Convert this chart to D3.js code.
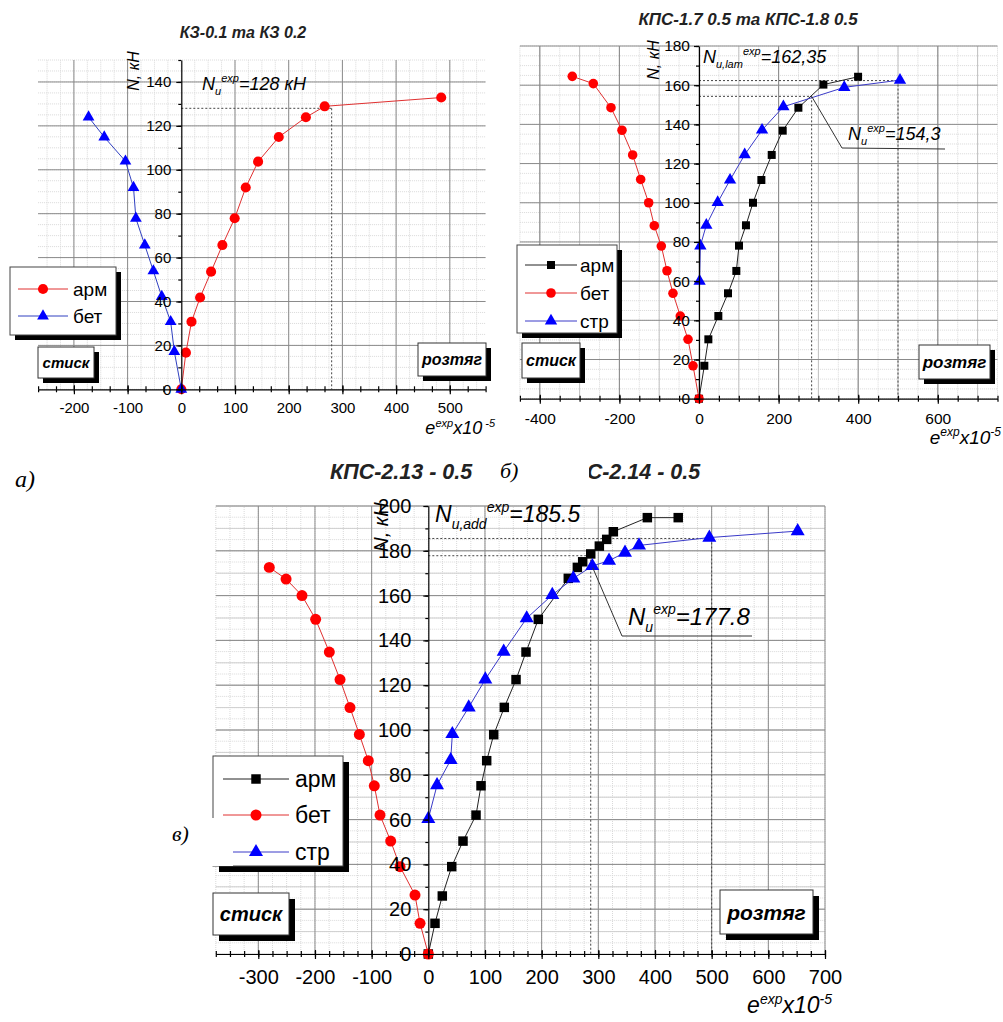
<!DOCTYPE html>
<html>
<head>
<meta charset="utf-8">
<script src="https://cdn.jsdelivr.net/npm/d3@7"></script>
<style>
  body { margin: 0; background: #fff; }
  svg { display: block; font-family: Arial, "Liberation Sans", sans-serif; }
</style>
</head>
<body>
<svg id="fig" width="1003" height="1022"></svg>
<script>
// ---- panel а) КЗ-0.1 та КЗ 0.2
const aArmX = [0, 8.6, 19, 35, 55.5, 76.5, 99.4, 120, 143, 181.5, 232, 267, 484];
const aArmN = [0, 16.7, 30.8, 41.8, 53.6, 65.7, 77.9, 91.9, 103.7, 114.9, 123.9, 128.9, 132.9];
const aBetX = [0, -13, -19.8, -36.4, -52, -68, -84.6, -89, -104, -143.5, -172.7];
const aBetN = [0, 17.2, 30.8, 42.2, 53.9, 65.7, 77.9, 91.9, 103.9, 114.9, 124];
const aXTicks = [-200, -100, 0, 100, 200, 300, 400, 500];
const aYTicks = [0, 20, 40, 60, 80, 100, 120, 140];
const aNu = 128, aNuX = 280;

// ---- panel б) КПС-1.7 0.5 та КПС-1.8 0.5
const bArmX = [0, 13.4, 23.5, 48.6, 72.9, 93.8, 100.5, 118, 135.7, 156.7, 182.7, 210.3, 249.7, 312.5, 399.7];
const bArmN = [0, 16.8, 30.3, 42.2, 53.8, 65.2, 78.1, 88.5, 100, 111.6, 124.4, 136.8, 148.5, 160.3, 164.3];
const bBetX = [0, -15, -27.6, -47, -65.4, -80.4, -94.7, -112.3, -126.5, -146.6, -166.7, -193.5, -221.2, -265.6, -318.4];
const bBetN = [0, 16.8, 30.3, 42.2, 53.8, 65.3, 77.9, 88.3, 100, 111.9, 124.4, 137, 148.5, 160.8, 164.5];
const bStrX = [1.5, 3.4, 18.4, 47, 78, 114.8, 158.4, 212, 365, 505];
const bStrN = [60, 78, 88.6, 100.2, 111.6, 124.5, 137.1, 149, 158.9, 162.6];
const bXTicks = [-400, -200, 0, 200, 400, 600];
const bYTicks = [0, 20, 40, 60, 80, 100, 120, 140, 160, 180];
const bNuLam = 162.35, bNuLamX = 500;
const bNu = 154.3, bNuX = 283;

// ---- panel в) КПС-2.13 - 0.5 та КПС-2.14 - 0.5
const cArmX = [0, 11.8, 24.7, 41.3, 61.2, 84.2, 93, 103, 115.4, 134.1, 154.8, 172.4, 194.1, 247, 263, 272.4, 286.6, 301.8, 314.8, 326.5, 386.5, 441];
const cArmN = [0, 13.7, 25.9, 39, 50.4, 62, 75.1, 86.3, 97.9, 110.1, 122.5, 134.8, 149.4, 167.7, 172.6, 175.1, 178.6, 182.1, 185.1, 188.5, 194.8, 194.8];
const cBetX = [0, -14.6, -23.5, -49.9, -66.4, -85.2, -95.3, -105.9, -121.7, -138.2, -155.8, -174.7, -198.8, -222.9, -251, -280.6];
const cBetN = [0, 13.7, 26.3, 39, 50.4, 62, 75.1, 86.3, 98, 110, 122.5, 134.8, 149.4, 160, 167.4, 172.6];
const cStrX = [0, 15.4, 39.5, 42.4, 71.3, 100.6, 133, 173.6, 218.8, 255.9, 289.4, 318.9, 347.1, 371.8, 495.9, 651.8];
const cStrN = [60.3, 75.4, 86.6, 98.2, 110.1, 122.6, 135, 149.9, 160.3, 167.7, 173.2, 175.6, 179.2, 182.4, 185.9, 188.8];
const cXTicks = [-300, -200, -100, 0, 100, 200, 300, 400, 500, 600, 700];
const cYTicks = [0, 20, 40, 60, 80, 100, 120, 140, 160, 180, 200];
const cNuAdd = 185.5, cNuAddX = 500;
const cNu = 177.8, cNuX = 286.6;

const RED = '#ff0000', BLUE = '#0000ff', BLACK = '#000000';
const svg = d3.select('#fig');

function stepRange(domain, step) {
  const start = Math.ceil(domain[0] / step - 1e-6) * step;
  return d3.range(start, domain[1] + 1e-6, step);
}

function drawPanel(p) {
  const x = d3.scaleLinear().domain(p.xDomain).range(p.xRange);
  const y = d3.scaleLinear().domain(p.yDomain).range(p.yRange);
  const g = svg.append('g');
  const xr = p.xRange, yr = p.yRange;

  const vLines = (vals, color, dash) => g.append('g').selectAll('line').data(vals).join('line')
    .attr('x1', d => x(d)).attr('x2', d => x(d))
    .attr('y1', yr[0]).attr('y2', yr[1])
    .attr('stroke', color).attr('stroke-width', 1).attr('stroke-dasharray', dash);
  const hLines = (vals, color, dash) => g.append('g').selectAll('line').data(vals).join('line')
    .attr('x1', xr[0]).attr('x2', xr[1])
    .attr('y1', d => y(d)).attr('y2', d => y(d))
    .attr('stroke', color).attr('stroke-width', 1).attr('stroke-dasharray', dash);

  // grid
  vLines(stepRange(p.xDomain, p.xGridStep), '#d9d9d9', '1,1');
  hLines(stepRange(p.yDomain, p.yGridStep), '#d9d9d9', '1,1');
  if (p.xGridMid) vLines(stepRange(p.xDomain, p.xGridMid), '#c2c2c2', null);
  if (p.yGridMid) hLines(stepRange(p.yDomain, p.yGridMid), '#cfcfcf', null);
  vLines(p.xTicks.filter(d => d !== 0), '#8a8a8a', null);
  hLines(p.yTicks.filter(d => d !== 0), '#8a8a8a', null);

  // reference dashed lines
  p.refs.forEach(r => {
    g.append('line').attr('x1', x(0)).attr('x2', x(r.x)).attr('y1', y(r.n)).attr('y2', y(r.n))
      .attr('stroke', '#444').attr('stroke-dasharray', '2,2');
    g.append('line').attr('x1', x(r.x)).attr('x2', x(r.x)).attr('y1', y(r.n)).attr('y2', y(0))
      .attr('stroke', '#444').attr('stroke-dasharray', '2,2');
  });

  // series
  p.series.forEach(s => {
    const pts = s.xs.map((v, i) => [v, s.ns[i]]);
    g.append('path').datum(pts)
      .attr('fill', 'none').attr('stroke', s.line).attr('stroke-width', 1)
      .attr('d', d3.line().x(d => x(d[0])).y(d => y(d[1])));
    g.append('g').selectAll('path').data(pts).join('path')
      .attr('transform', d => `translate(${x(d[0])},${y(d[1])})`)
      .attr('d', d3.symbol().type(s.symbol).size(s.size))
      .attr('fill', s.color);
  });

  // axes (plain hyphen for negative labels, as in the source)
  const fam = 'Arial, "Liberation Sans", sans-serif';
  const fmt = d => String(d);
  const xAx = g.append('g').attr('transform', `translate(0,${y(0)})`);
  xAx.call(d3.axisBottom(x).tickValues(p.xTicks).tickSize(5).tickSizeOuter(0).tickPadding(p.xPad).tickFormat(fmt))
    .attr('font-family', fam).attr('font-size', p.tickFont);
  xAx.append('g').call(d3.axisBottom(x).tickValues(stepRange(p.xDomain, p.xMinor)).tickSize(3).tickFormat(''))
    .call(a => a.select('.domain').remove());
  xAx.append('g').call(d3.axisTop(x).tickValues(stepRange(p.xDomain, p.xMinor)).tickSize(3).tickFormat(''))
    .call(a => a.select('.domain').remove());
  xAx.append('g').call(d3.axisTop(x).tickValues(p.xTicks).tickSize(4).tickFormat(''))
    .call(a => a.select('.domain').remove());
  xAx.selectAll('path, line').attr('stroke-width', 1.2);

  const yAx = g.append('g').attr('transform', `translate(${x(0)},0)`);
  yAx.call(d3.axisLeft(y).tickValues(p.yTicks).tickSize(5).tickSizeOuter(0).tickPadding(p.yPad).tickFormat(fmt))
    .attr('font-family', fam).attr('font-size', p.tickFont);
  yAx.append('g').call(d3.axisLeft(y).tickValues(stepRange(p.yDomain, 10)).tickSize(3).tickFormat(''))
    .call(a => a.select('.domain').remove());
  yAx.selectAll('path, line').attr('stroke-width', 1.2);

  // axis titles
  g.append('text')
    .attr('transform', `translate(${p.nLabel[0]},${p.nLabel[1]}) rotate(-90)`)
    .attr('text-anchor', 'middle').attr('font-style', 'italic').attr('font-size', p.nLabel[2])
    .text('N, кН');
  const el = g.append('text').attr('x', p.eLabel[0]).attr('y', p.eLabel[1])
    .attr('text-anchor', 'end').attr('font-style', 'italic').attr('font-size', p.eLabel[2]);
  const small = Math.round(p.eLabel[2] * 0.62);
  el.append('tspan').text('e');
  el.append('tspan').attr('font-size', small).attr('dy', -p.eLabel[2] * 0.4).text('exp');
  el.append('tspan').attr('dy', p.eLabel[2] * 0.4).text('x10');
  el.append('tspan').attr('font-size', small).attr('dy', -p.eLabel[2] * 0.4).text(p.eExp);

  // boxes стиск / розтяг
  p.boxes.forEach(b => {
    g.append('rect').attr('x', b.x + b.sh).attr('y', b.y + b.sh).attr('width', b.w).attr('height', b.h).attr('fill', '#000');
    g.append('rect').attr('x', b.x).attr('y', b.y).attr('width', b.w).attr('height', b.h)
      .attr('fill', '#fff').attr('stroke', '#333').attr('stroke-width', 1);
    g.append('text').attr('x', b.x + b.w / 2).attr('y', b.y + b.h / 2)
      .attr('text-anchor', 'middle').attr('dominant-baseline', 'central')
      .attr('font-weight', 'bold').attr('font-style', 'italic').attr('font-size', b.fs)
      .text(b.text);
  });

  // legend
  const L = p.legend;
  g.append('rect').attr('x', L.x + L.sh).attr('y', L.y + L.sh).attr('width', L.w).attr('height', L.h).attr('fill', '#000');
  g.append('rect').attr('x', L.x).attr('y', L.y).attr('width', L.w).attr('height', L.h)
    .attr('fill', '#fff').attr('stroke', '#444').attr('stroke-width', 1);
  L.items.forEach((it, i) => {
    const s = p.series[it];
    const yy = L.rows[i];
    g.append('line').attr('x1', L.line[0]).attr('x2', L.line[1]).attr('y1', yy).attr('y2', yy)
      .attr('stroke', s.line).attr('stroke-width', 1);
    g.append('path').attr('transform', `translate(${(L.line[0] + L.line[1]) / 2},${yy})`)
      .attr('d', d3.symbol().type(s.symbol).size(s.size)).attr('fill', s.color);
    g.append('text').attr('x', L.tx).attr('y', yy).attr('dominant-baseline', 'central')
      .attr('font-size', L.fs).text(s.name);
  });

  return { x, y, g };
}

function annot(g, xp, yp, fs, sub, rest) {
  const t = g.append('text').attr('x', xp).attr('y', yp)
    .attr('font-style', 'italic').attr('font-size', fs);
  const sm = Math.round(fs * 0.6);
  t.append('tspan').text('N');
  t.append('tspan').attr('font-size', sm).attr('dy', fs * 0.3).text(sub);
  t.append('tspan').attr('font-size', sm).attr('dy', -fs * 0.75).text('exp');
  t.append('tspan').attr('dy', fs * 0.45).text(rest);
}

function title(g, xp, yp, fs, anchor, txt) {
  g.append('text').attr('x', xp).attr('y', yp).attr('text-anchor', anchor)
    .attr('font-style', 'italic').attr('font-weight', 'bold').attr('font-size', fs)
    .attr('fill', '#222').text(txt);
}

// ---------- panel а
const A = drawPanel({
  xDomain: [-800 / 3, 1700 / 3], xRange: [38.1, 485.6],
  yDomain: [0, 150], yRange: [389.3, 60],
  xTicks: aXTicks, yTicks: aYTicks, xMinor: 100 / 3, xGridStep: 25, yGridStep: 5,
  tickFont: 15, xPad: 8, yPad: 5,
  refs: [{ x: aNuX, n: aNu }],
  series: [
    { name: 'арм', xs: aArmX, ns: aArmN, color: RED, line: '#e03030', symbol: d3.symbolCircle, size: 80 },
    { name: 'бет', xs: aBetX, ns: aBetN, color: BLUE, line: '#3040c0', symbol: d3.symbolTriangle, size: 60 }
  ],
  nLabel: [139, 71, 16], eLabel: [495, 434, 18], eExp: ' -5',
  boxes: [
    { x: 38, y: 347, w: 56, h: 31, sh: 5, fs: 15, text: 'стиск' },
    { x: 418, y: 343, w: 68, h: 33, sh: 5, fs: 16, text: 'розтяг' }
  ],
  legend: { x: 10, y: 267, w: 106, h: 68, sh: 5, rows: [289, 316], line: [18, 68], tx: 73, fs: 19, items: [0, 1] }
});
annot(A.g, 202, 90, 18, 'u', '=128 кН');
title(A.g, 243, 38, 16, 'middle', 'КЗ-0.1 та КЗ 0.2');

// ---------- panel б
const B = drawPanel({
  xDomain: [-450, 750], xRange: [519.9, 997.5],
  yDomain: [0, 180], yRange: [398.7, 46],
  xTicks: bXTicks, yTicks: bYTicks, xMinor: 50, xGridStep: 50, xGridMid: 100, yGridStep: 5,
  tickFont: 15.5, xPad: 9, yPad: 4,
  refs: [{ x: bNuLamX, n: bNuLam }, { x: bNuX, n: bNu }],
  series: [
    { name: 'арм', xs: bArmX, ns: bArmN, color: BLACK, line: '#222', symbol: d3.symbolSquare, size: 64 },
    { name: 'бет', xs: bBetX, ns: bBetN, color: RED, line: '#e03030', symbol: d3.symbolCircle, size: 72 },
    { name: 'стр', xs: bStrX, ns: bStrN, color: BLUE, line: '#3a3ac8', symbol: d3.symbolTriangle, size: 66 }
  ],
  nLabel: [659, 60, 16], eLabel: [1001, 444, 19], eExp: '-5',
  boxes: [
    { x: 522, y: 343, w: 58, h: 35, sh: 5, fs: 16, text: 'стиск' },
    { x: 919, y: 345, w: 71, h: 34, sh: 5, fs: 17, text: 'розтяг' }
  ],
  legend: { x: 517, y: 245, w: 100, h: 88, sh: 5, rows: [265, 293, 321], line: [525, 577], tx: 580, fs: 19, items: [0, 1, 2] }
});
annot(B.g, 703, 63, 18, 'u,lam', '=162,35');
annot(B.g, 848, 140, 18, 'u', '=154,3');
B.g.append('path')
  .attr('d', d3.line()([[B.x(bNuX), B.y(bNu)], [842, 148], [945, 149]]))
  .attr('fill', 'none').attr('stroke', '#333').attr('stroke-width', 1);
title(B.g, 748, 25, 17, 'middle', 'КПС-1.7 0.5 та КПС-1.8 0.5');

// ---------- panel в
const C = drawPanel({
  xDomain: [-375, 700], xRange: [215.8, 825],
  yDomain: [0, 200], yRange: [954, 506],
  xTicks: cXTicks, yTicks: cYTicks, xMinor: 25, xGridStep: 25, yGridStep: 5, yGridMid: 10,
  tickFont: 20, xPad: 11, yPad: 12,
  refs: [{ x: cNuAddX, n: cNuAdd }, { x: cNuX, n: cNu }],
  series: [
    { name: 'арм', xs: cArmX, ns: cArmN, color: BLACK, line: '#222', symbol: d3.symbolSquare, size: 90 },
    { name: 'бет', xs: cBetX, ns: cBetN, color: RED, line: '#e03030', symbol: d3.symbolCircle, size: 95 },
    { name: 'стр', xs: cStrX, ns: cStrN, color: BLUE, line: '#3a3ac8', symbol: d3.symbolTriangle, size: 85 }
  ],
  nLabel: [388, 527, 20], eLabel: [832, 1013, 23], eExp: '-5',
  boxes: [
    { x: 213, y: 893, w: 76, h: 42, sh: 6, fs: 20, text: 'стиск' },
    { x: 720, y: 890, w: 93, h: 44, sh: 6, fs: 21, text: 'розтяг' }
  ],
  legend: { x: 213, y: 756, w: 130, h: 110, sh: 6, rows: [779, 815, 852], line: [223, 289], tx: 295, fs: 23, items: [0, 1, 2] }
});
annot(C.g, 435, 522, 23, 'u,add', '=185.5');
annot(C.g, 628, 625, 24, 'u', '=177.8');
C.g.append('path')
  .attr('d', d3.line()([[C.x(cNuX) + 2, C.y(cNu) + 12], [622, 636], [752, 636]]))
  .attr('fill', 'none').attr('stroke', '#333').attr('stroke-width', 1);
title(C.g, 330, 479, 21.5, 'start', 'КПС-2.13 - 0.5');
title(C.g, 558, 479, 21.5, 'start', 'КПС-2.14 - 0.5');

// sub-figure labels (their white boxes cover neighbouring parts)
svg.append('rect').attr('x', 494).attr('y', 455).attr('width', 95).attr('height', 32).attr('fill', '#fff');
svg.append('rect').attr('x', 150).attr('y', 818).attr('width', 83).attr('height', 48).attr('fill', '#fff');
const serif = '"Liberation Serif", "DejaVu Serif", serif';
[['а)', 15, 487, 24], ['б)', 500, 478, 22], ['в)', 172, 841, 22]].forEach(d => {
  svg.append('text').attr('x', d[1]).attr('y', d[2]).attr('font-family', serif)
    .attr('font-style', 'italic').attr('font-size', d[3]).text(d[0]);
});
</script>
</body>
</html>
